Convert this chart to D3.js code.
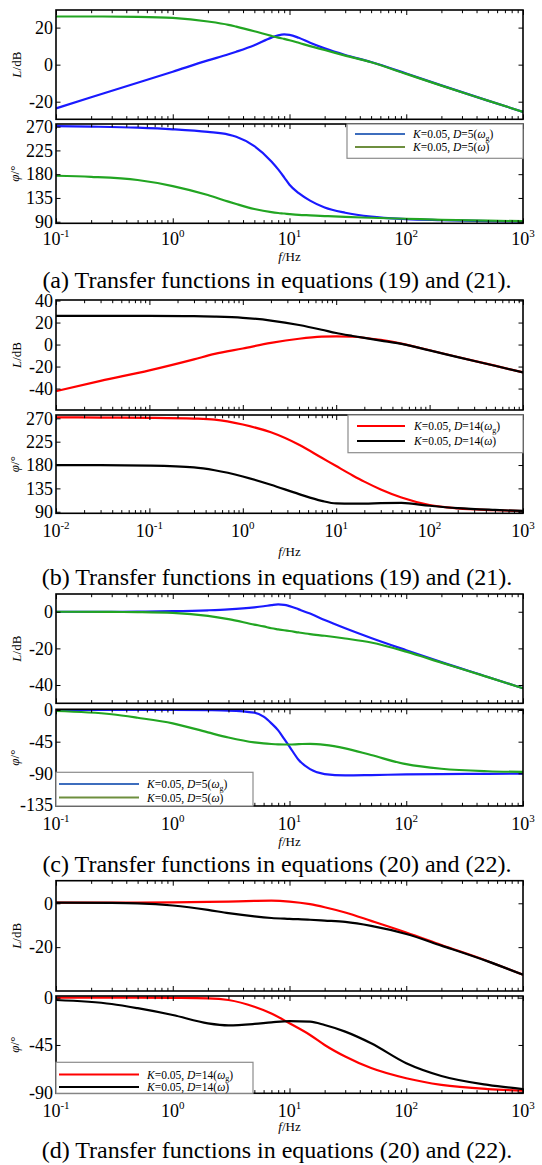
<!DOCTYPE html>
<html>
<head>
<meta charset="utf-8">
<title>Bode plots</title>
<script src="https://d3js.org/d3.v7.min.js"></script>
<style>
    body { margin: 0; background: #fff; }
    text { font-family: "Liberation Serif", "Times New Roman", serif; fill: #000; }
</style>
</head>
<body>
<div id="chart"></div>
<script>
// ---- data (f in Hz, L in dB, phase in degrees) ----
var freqA = [0.1, 0.2, 0.5, 1, 2, 3, 3.5, 5, 7, 8, 9, 10, 12, 15, 20, 30, 50, 100, 200, 500, 1000];
var magA_wg = [-23.6, -17.6, -9.8, -3.8, 2.3, 5.6, 7, 10.5, 14.6, 15.8, 16.3, 16.1, 14.5, 11.8, 8.8, 5.2, 1.4, -4.8, -11.2, -19.4, -25.5];
var magA_w  = [26, 26, 25.8, 25.2, 23.3, 21.5, 20.5, 18, 15.5, 14.6, 13.9, 13.2, 11.8, 10, 7.9, 4.9, 1.3, -5, -11.3, -19.4, -25.5];
var phA_wg  = [271, 270, 268, 265, 260, 255, 251, 233, 204, 189, 174, 160, 144, 130, 117, 107, 99.5, 95, 93, 91, 90.5];
var phA_w   = [177, 175, 169, 157.5, 140.5, 128, 123.5, 114, 108, 106.5, 105.5, 104.5, 103, 102, 100.7, 99, 97.5, 95.6, 93.5, 92, 91];

var freqB = [0.01, 0.03, 0.1, 0.3, 0.5, 1, 2, 4, 7, 10, 15, 20, 30, 50, 100, 200, 500, 1000];
var magB_wg = [-42.4, -33, -23.5, -13.5, -8.5, -3.6, 1.5, 5.3, 7.2, 7.5, 7.1, 6.2, 4.2, 0.9, -5.2, -11.3, -19.2, -25.3];
var magB_w  = [26, 26, 26, 25.8, 25.4, 24.3, 21.8, 17.8, 13.5, 10.5, 7.8, 6, 3.6, 0.6, -5.3, -11.4, -19.3, -25.3];
var phB_wg  = [272, 271.5, 271, 269.5, 267.5, 258, 243, 219, 194, 178, 160, 148, 133, 117.5, 103, 96.5, 93, 91];
var phB_w   = [180, 180, 179, 175.5, 170, 158, 142, 124, 111, 106, 105.5, 105.5, 106.5, 107, 101.5, 97, 93.5, 91.5];

var freqC = [0.1, 0.3, 0.5, 1, 2, 3, 5, 6, 7, 8, 9, 10, 12, 15, 20, 30, 50, 100, 200, 500, 1000];
var magC_wg = [0, 0, 0.1, 0.3, 0.8, 1.3, 2.4, 3, 3.6, 4, 3.8, 3.1, 1.3, -1, -4.5, -9, -14.3, -21, -27.5, -35.6, -41.8];
var magC_w  = [0, -0.1, -0.2, -0.6, -2.2, -4, -7, -8, -9, -9.6, -10.1, -10.5, -11.3, -12.2, -13.1, -14.6, -16.8, -21.8, -27.8, -35.7, -41.8];
var phC_wg  = [0, 0, 0, 0, -0.3, -0.8, -3.8, -9.5, -19, -29, -41, -52, -71, -84, -91, -93, -92.5, -91.5, -91, -90.7, -90.5];
var phC_w   = [-1.4, -6, -11, -19, -31.8, -39, -46, -47.5, -48.3, -48.8, -49, -49, -48.5, -48, -49.5, -54.5, -64, -77, -83.5, -87, -88];

var freqD = [0.1, 0.3, 0.5, 1, 2, 3, 5, 7, 10, 15, 20, 30, 50, 100, 200, 500, 1000];
var magD_wg = [0.3, 0.3, 0.3, 0.4, 0.6, 0.8, 1.1, 1.2, 0.8, -0.4, -1.8, -4.2, -8, -13.3, -19, -26.4, -32.6];
var magD_w  = [0.3, 0.2, 0, -1, -3, -4.5, -6, -6.7, -7.1, -7.5, -7.9, -8.5, -10.3, -14, -19.3, -26.5, -32.6];
var phD_wg  = [0, 0, 0, -0.2, -0.6, -2.2, -8.6, -15, -24.4, -35.5, -45, -56, -67, -76.7, -83, -87, -88.5];
var phD_w   = [-2.2, -6, -10, -16.5, -24.4, -26.3, -25, -23.5, -22.3, -22.8, -26, -32.3, -43.4, -62.4, -74.5, -83, -87];

var magTicksA = [-20, 0, 20];
var magTicksB = [-40, -20, 0, 20, 40];
var magTicksC = [-40, -20, 0];
var magTicksD = [-20, 0];
var phTicksAB = [90, 135, 180, 225, 270];
var phTicksC = [-135, -90, -45, 0];
var phTicksD = [-90, -45, 0];

var captions = [
    '(a) Transfer functions in equations (19) and (21).',
    '(b) Transfer functions in equations (19) and (21).',
    '(c) Transfer functions in equations (20) and (22).',
    '(d) Transfer functions in equations (20) and (22).'
];

// ---- layout ----
var width = 542, height = 1165;
var left = 56, right = 523;

var panels = [
    { f: freqA, xDomain: [0.1, 1000], mag: [magA_wg, magA_w], ph: [phA_wg, phA_w],
      colors: ['#1a1aff', '#22a522'], legendColors: ['#3d6dbd', '#6e8f3f'], D: '5',
      magBox: [10, 119.3], magDomain: [-29.5, 29.5], magTicks: magTicksA,
      phBox: [124, 223.3], phDomain: [87, 275], phTicks: phTicksAB,
      legend: { x0: 347, x1: 523, y0: 124, y1: 158.3, lx0: 355, lx1: 405, tx: 413, rows: [134, 147] },
      xlabY: 245, fY: 261, capY: 288, caption: captions[0] },
    { f: freqB, xDomain: [0.01, 1000], mag: [magB_wg, magB_w], ph: [phB_wg, phB_w],
      colors: ['#ff0000', '#000000'], legendColors: ['#ff0000', '#000000'], D: '14',
      magBox: [300, 410], magDomain: [-59.5, 40.5], magTicks: magTicksB,
      phBox: [415, 513.3], phDomain: [87, 276.4], phTicks: phTicksAB,
      legend: { x0: 348, x1: 523, y0: 415, y1: 452.7, lx0: 357, lx1: 405, tx: 414, rows: [426, 441] },
      xlabY: 536.5, fY: 556, capY: 585, caption: captions[1] },
    { f: freqC, xDomain: [0.1, 1000], mag: [magC_wg, magC_w], ph: [phC_wg, phC_w],
      colors: ['#1a1aff', '#22a522'], legendColors: ['#3d6dbd', '#6e8f3f'], D: '5',
      magBox: [594, 703.3], magDomain: [-50, 9.7], magTicks: magTicksC,
      phBox: [709.3, 806], phDomain: [-136.4, 1], phTicks: phTicksC,
      legend: { x0: 56, x1: 253, y0: 772.3, y1: 806, lx0: 59, lx1: 139, tx: 147, rows: [784, 797.5] },
      xlabY: 830, fY: 846, capY: 872, caption: captions[2] },
    { f: freqD, xDomain: [0.1, 1000], mag: [magD_wg, magD_w], ph: [phD_wg, phD_w],
      colors: ['#ff0000', '#000000'], legendColors: ['#ff0000', '#000000'], D: '14',
      magBox: [880.7, 991], magDomain: [-40, 10.3], magTicks: magTicksD,
      phBox: [996, 1093.3], phDomain: [-91, 1.6], phTicks: phTicksD,
      legend: { x0: 56, x1: 253, y0: 1062.3, y1: 1093.3, lx0: 59, lx1: 139, tx: 147, rows: [1074.5, 1087] },
      xlabY: 1117, fY: 1131, capY: 1158, caption: captions[3] }
];

var svg = d3.select('#chart').append('svg')
    .attr('width', width)
    .attr('height', height);

function decadesOf(dom) {
    var out = [];
    for (var e = Math.round(Math.log10(dom[0])); e <= Math.round(Math.log10(dom[1])); e++) out.push(e);
    return out;
}

function minorOf(dom) {
    var out = [];
    decadesOf(dom).forEach(function (e) {
        for (var m = 2; m <= 9; m++) {
            var v = m * Math.pow(10, e);
            if (v < dom[1]) out.push(v);
        }
    });
    return out;
}

// one framed subplot (magnitude or phase)
function drawPlot(p, x, box, yDomain, yTicks, series, title) {
    var g = svg.append('g');
    var y = d3.scaleLinear().domain(yDomain).range([box[1], box[0]]);
    var majors = decadesOf(p.xDomain).map(function (e) { return Math.pow(10, e); });
    var minors = minorOf(p.xDomain);

    // curves, clipped to the frame
    var clipId = 'clip' + Math.round(box[0]);
    g.append('clipPath').attr('id', clipId).append('rect')
        .attr('x', left).attr('y', box[0]).attr('width', right - left).attr('height', box[1] - box[0]);

    var line = d3.line()
        .x(function (d) { return x(d[0]); })
        .y(function (d) { return y(d[1]); })
        .curve(d3.curveMonotoneX);

    series.forEach(function (vals, i) {
        g.append('path')
            .datum(p.f.map(function (f, j) { return [f, vals[j]]; }))
            .attr('clip-path', 'url(#' + clipId + ')')
            .attr('fill', 'none')
            .attr('stroke', p.colors[i])
            .attr('stroke-width', 2.2)
            .attr('stroke-linejoin', 'round')
            .attr('d', line);
    });

    // inward ticks on all four sides
    function ax(axis, tx, ty) {
        var a = g.append('g').attr('transform', 'translate(' + tx + ',' + ty + ')').call(axis);
        a.select('.domain').remove();
        a.selectAll('line').attr('stroke', '#000').attr('stroke-width', 1);
        return a;
    }
    ax(d3.axisBottom(x).tickValues(majors).tickSize(-5).tickFormat(''), 0, box[1]);
    ax(d3.axisBottom(x).tickValues(minors).tickSize(-3.2).tickFormat(''), 0, box[1]);
    ax(d3.axisTop(x).tickValues(majors).tickSize(-5).tickFormat(''), 0, box[0]);
    ax(d3.axisTop(x).tickValues(minors).tickSize(-3.2).tickFormat(''), 0, box[0]);
    ax(d3.axisRight(y).tickValues(yTicks).tickSize(-4.5).tickFormat(''), right, 0);
    var yl = ax(d3.axisLeft(y).tickValues(yTicks).tickSize(-4.5).tickPadding(3)
        .tickFormat(function (d) { return String(d).replace('\u2212', '-'); }), left, 0);
    yl.selectAll('text')
        .attr('font-family', '"Liberation Serif", serif')
        .attr('font-size', 18)
        .attr('fill', '#000');

    // frame
    g.append('rect')
        .attr('x', left).attr('y', box[0])
        .attr('width', right - left).attr('height', box[1] - box[0])
        .attr('fill', 'none').attr('stroke', '#000').attr('stroke-width', 1.6);

    // rotated axis title
    var t = g.append('text')
        .attr('transform', 'translate(' + (title.x) + ',' + ((box[0] + box[1]) / 2) + ') rotate(-90)')
        .attr('text-anchor', 'middle')
        .attr('font-size', 13);
    title.parts.forEach(function (s) {
        t.append('tspan').attr('font-style', s[1] ? 'italic' : null).text(s[0]);
    });
    return g;
}

function legendLabel(sel, D, sub) {
    sel.append('tspan').attr('font-style', 'italic').text('K');
    sel.append('tspan').text('=0.05, ');
    sel.append('tspan').attr('font-style', 'italic').text('D');
    sel.append('tspan').text('=' + D + '(');
    sel.append('tspan').attr('font-style', 'italic').text('\u03c9');
    if (sub) sel.append('tspan').attr('font-size', 8).attr('dy', 2.5).text('g');
    sel.append('tspan').attr('dy', sub ? -2.5 : 0).text(')');
}

panels.forEach(function (p) {
    var x = d3.scaleLog().domain(p.xDomain).range([left, right]);

    drawPlot(p, x, p.magBox, p.magDomain, p.magTicks, p.mag,
        { x: 21, parts: [['L', true], ['/dB', false]] });
    drawPlot(p, x, p.phBox, p.phDomain, p.phTicks, p.ph,
        { x: 19, parts: [['\u03c6', true], ['/\u00b0', false]] });

    // x tick labels 10^n
    decadesOf(p.xDomain).forEach(function (e) {
        var t = svg.append('text')
            .attr('x', x(Math.pow(10, e)))
            .attr('y', p.xlabY)
            .attr('text-anchor', 'middle')
            .attr('font-size', 18);
        t.append('tspan').text('10');
        t.append('tspan').attr('font-size', 11).attr('dy', -8).text(String(e));
    });

    // f/Hz
    var fl = svg.append('text')
        .attr('x', (left + right) / 2)
        .attr('y', p.fY)
        .attr('text-anchor', 'middle')
        .attr('font-size', 13);
    fl.append('tspan').attr('font-style', 'italic').text('f');
    fl.append('tspan').text('/Hz');

    // legend
    var L = p.legend;
    svg.append('rect')
        .attr('x', L.x0).attr('y', L.y0)
        .attr('width', L.x1 - L.x0).attr('height', L.y1 - L.y0)
        .attr('fill', '#fff').attr('stroke', '#8c8c8c').attr('stroke-width', 1.2);
    L.rows.forEach(function (ry, i) {
        svg.append('line')
            .attr('x1', L.lx0).attr('x2', L.lx1)
            .attr('y1', ry).attr('y2', ry)
            .attr('stroke', p.legendColors[i]).attr('stroke-width', 1.8);
        var t = svg.append('text')
            .attr('x', L.tx).attr('y', ry + 4)
            .attr('font-size', 11.5);
        legendLabel(t, p.D, i === 0);
    });

    // caption
    svg.append('text')
        .attr('x', 277)
        .attr('y', p.capY)
        .attr('text-anchor', 'middle')
        .attr('font-size', 24)
        .text(p.caption);
});
</script>
</body>
</html>
